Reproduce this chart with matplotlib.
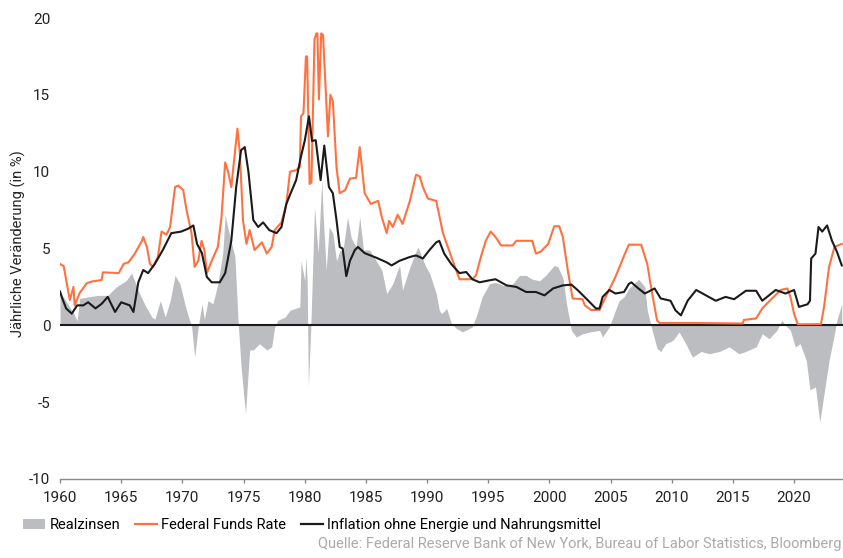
import numpy as np
import matplotlib
matplotlib.use("Agg")
import matplotlib.pyplot as plt
from matplotlib.patches import Patch
from matplotlib.lines import Line2D

plt.rcParams["font.family"] = ["Liberation Sans Narrow", "Roboto", "DejaVu Sans"]

# Federal Funds Rate
ff_year = [1960.0, 1960.3, 1960.8, 1961.1, 1961.2, 1961.6, 1962.2, 1962.6, 1963.4, 1963.5,
           1964.8, 1965.2, 1965.6, 1966.1, 1966.7, 1966.8, 1967.1, 1967.35, 1967.6, 1968.0,
           1968.3, 1968.7, 1969.0, 1969.4, 1969.66, 1970.07, 1970.34, 1970.75, 1971.0, 1971.3,
           1971.57, 1971.8, 1972.0, 1972.4, 1972.9, 1973.2, 1973.5, 1973.74, 1974.0, 1974.5,
           1974.7, 1974.96, 1975.24, 1975.5, 1975.9, 1976.5, 1976.9, 1977.3, 1977.55, 1978.1,
           1978.5, 1978.8, 1979.3, 1979.6, 1979.7, 1979.9, 1980.1, 1980.2, 1980.27, 1980.4,
           1980.55, 1980.8, 1980.95, 1981.04, 1981.16, 1981.35, 1981.5, 1981.76, 1981.9, 1982.1,
           1982.3, 1982.6, 1982.86, 1983.3, 1983.7, 1984.2, 1984.5, 1984.9, 1985.4, 1986.0,
           1986.3, 1986.7, 1986.9, 1987.2, 1987.6, 1988.0, 1988.6, 1989.1,
           1989.4, 1989.66, 1990.07, 1990.75, 1991.3, 1991.7, 1992.1, 1992.65, 1993.7, 1994.0,
           1994.4, 1994.8, 1995.2, 1995.6, 1996.05, 1997.0, 1997.3, 1998.6, 1998.9, 1999.3,
           1999.9, 2000.4, 2000.8, 2001.1, 2001.5, 2001.9, 2002.7, 2002.9, 2003.4, 2004.1,
           2004.6, 2005.4, 2006.3, 2006.5, 2007.5, 2008.0, 2008.4, 2008.8, 2009.0, 2012.0,
           2015.8, 2015.9, 2016.9, 2017.4, 2018.2, 2018.9, 2019.45, 2019.7, 2020.0, 2020.3,
           2022.2, 2022.45, 2022.86, 2023.3, 2023.9]
ff_val = [4.0, 3.85, 1.65, 2.5, 1.3, 2.1, 2.75, 2.85, 2.95, 3.45,
          3.4, 4.0, 4.1, 4.65, 5.5, 5.75, 5.1, 4.0, 3.8, 4.45,
          6.1, 5.9, 6.4, 9.0, 9.1, 8.8, 7.5, 6.0, 3.8, 4.2,
          5.5, 4.9, 3.4, 4.2, 5.1, 7.05, 10.6, 10.0, 9.0, 12.8,
          11.2, 6.8, 5.3, 6.2, 4.9, 5.4, 4.67, 5.1, 6.2, 6.7,
          7.9, 10.0, 10.1, 10.3, 13.6, 13.8, 17.5, 17.5, 14.7, 9.2,
          9.3, 18.6, 19.0, 19.0, 14.7, 19.0, 18.9, 14.7, 12.3, 15.0,
          14.6, 10.3, 8.6, 8.8, 9.55, 9.6, 11.6, 8.6, 7.9, 8.1,
          7.05, 6.0, 6.8, 6.4, 7.2, 6.6, 8.1, 9.8,
          9.7, 9.0, 8.25, 8.1, 6.0, 5.1, 4.2, 3.0, 3.0, 3.25,
          4.45, 5.5, 6.1, 5.75, 5.2, 5.2, 5.5, 5.5, 4.67, 4.8,
          5.3, 6.45, 6.45, 5.75, 3.6, 1.75, 1.7, 1.3, 1.0, 1.0,
          1.85, 3.15, 4.9, 5.25, 5.25, 4.0, 2.07, 0.33, 0.15, 0.15,
          0.12, 0.35, 0.45, 1.1, 1.75, 2.3, 2.4, 1.85, 0.76, 0.07,
          0.08, 1.2, 3.8, 5.1, 5.3]

# Inflation ohne Energie und Nahrungsmittel
core_year = [1960.0, 1960.14, 1960.5, 1960.96, 1961.4, 1961.9, 1962.3, 1962.9, 1963.4, 1963.9,
             1964.5, 1965.0, 1965.7, 1966.0, 1966.4, 1966.8, 1967.2, 1967.75, 1968.4, 1969.1,
             1969.9, 1970.5, 1970.9, 1971.2, 1971.6, 1972.0, 1972.4, 1973.06, 1973.5, 1974.0,
             1974.4, 1974.8, 1975.1, 1975.4, 1975.8, 1976.2, 1976.6, 1977.1, 1977.7, 1978.1,
             1978.5, 1978.8, 1979.3, 1979.7, 1980.0, 1980.35, 1980.6, 1980.9, 1981.3, 1981.6,
             1981.98, 1982.3, 1982.6, 1982.86, 1983.1, 1983.4, 1983.7, 1984.1, 1984.35, 1984.9,
             1985.85, 1986.7, 1987.1, 1987.75, 1988.6, 1989.1, 1989.66, 1990.2, 1990.75, 1991.0,
             1991.4, 1991.97,
             1992.65, 1993.2, 1993.7, 1994.3, 1995.1, 1995.6, 1996.5, 1997.3, 1998.1, 1998.9,
             1999.6, 2000.3, 2001.1, 2001.8, 2002.3, 2003.0, 2003.8, 2004.1, 2004.35, 2004.9,
             2005.4, 2006.1, 2006.5, 2006.7, 2007.2, 2007.8, 2008.6, 2009.1, 2009.9, 2010.3,
             2010.75, 2011.3, 2012.0, 2012.8, 2013.6, 2014.4, 2015.1, 2016.06, 2016.9, 2017.4,
             2018.5, 2019.3, 2020.0, 2020.4, 2021.1, 2021.3, 2021.4, 2021.75, 2022.0, 2022.3,
             2022.7, 2023.1, 2023.5, 2023.9]
core_val = [2.2, 1.85, 1.1, 0.76, 1.3, 1.3, 1.5, 1.1, 1.4, 1.85,
            0.87, 1.5, 1.3, 0.87, 2.8, 3.6, 3.4, 4.0, 4.9, 6.0,
            6.1, 6.3, 6.5, 5.3, 4.7, 3.15, 2.8, 2.8, 3.4, 5.5,
            9.0, 11.4, 11.6, 10.0, 6.85, 6.4, 6.7, 6.2, 6.0, 6.4,
            7.9, 8.5, 9.45, 11.0, 12.0, 13.6, 12.0, 12.05, 9.45, 11.7,
            9.0, 8.6, 6.85, 5.1, 5.0, 3.2, 4.2, 4.9, 5.1, 4.7,
            4.4, 4.1, 3.9, 4.2, 4.45, 4.55, 4.35, 4.9, 5.4, 5.5,
            4.67, 4.0,
            3.4, 3.47, 3.0, 2.8, 2.93, 3.0, 2.6, 2.5, 2.17, 2.17,
            1.95, 2.4, 2.6, 2.65, 2.3, 1.75, 1.1, 1.1, 1.85, 2.3,
            2.07, 2.17, 2.7, 2.8, 2.45, 2.07, 2.4, 1.75, 1.6, 0.98,
            0.65, 1.6, 2.3, 1.95, 1.6, 1.85, 1.7, 2.25, 2.25, 1.6,
            2.3, 2.07, 2.3, 1.2, 1.37, 1.6, 4.35, 4.67, 6.4, 6.1,
            6.5, 5.5, 4.8, 3.9]

# Realzinsen
real_year = [1960.0, 1960.7, 1961.1, 1961.4, 1961.6, 1962.3, 1963.1, 1963.9, 1964.6, 1965.0,
             1965.4, 1965.85, 1966.1, 1966.5, 1966.9, 1967.5, 1967.75, 1968.2, 1968.6, 1969.0,
             1969.4, 1969.8, 1970.2, 1970.5, 1970.75, 1971.0, 1971.3, 1971.6, 1971.8, 1972.1,
             1972.5, 1972.9, 1973.3, 1973.5, 1973.7, 1974.3, 1974.55, 1974.8, 1975.16, 1975.5,
             1975.8, 1976.3, 1976.9, 1977.3, 1977.55, 1977.8, 1978.4, 1978.8, 1979.6, 1979.7,
             1980.0, 1980.1, 1980.2, 1980.3, 1980.5, 1980.8, 1981.1, 1981.4, 1981.5, 1981.76,
             1982.0, 1982.3, 1982.6, 1982.9, 1983.1, 1983.5, 1983.8, 1984.2, 1984.5, 1984.8,
             1985.3, 1985.85, 1986.3, 1986.7, 1987.2, 1987.75, 1988.0, 1988.6, 1989.25, 1989.9,
             1990.2, 1990.75, 1991.0, 1991.2, 1991.6, 1992.0,
             1992.4, 1992.9, 1993.7, 1994.1, 1994.5, 1995.1, 1995.6, 1996.2, 1997.0, 1997.55,
             1998.1, 1998.6, 1999.2, 1999.7, 2000.4, 2000.7, 2001.1, 2001.4, 2001.8, 2002.2,
             2002.7, 2003.3, 2004.1, 2004.35, 2004.9, 2005.4, 2005.7, 2006.1, 2006.5, 2007.3,
             2007.8, 2008.0, 2008.4, 2008.8, 2009.1, 2009.5, 2010.1, 2010.6, 2011.15, 2011.7,
             2012.4, 2013.06, 2013.9, 2014.7, 2015.5, 2016.06, 2016.9, 2017.4, 2017.96, 2018.6,
             2019.0, 2019.3, 2019.7, 2020.1, 2020.5, 2021.0, 2021.3, 2021.75, 2022.1, 2022.45,
             2022.86, 2023.3, 2023.5, 2023.9]
real_val = [2.2, 1.3, 0.8, 0.3, 1.75, 1.85, 1.95, 1.95, 2.5, 2.7,
            2.9, 3.4, 2.9, 2.07, 1.4, 0.54, 0.4, 1.6, 0.54, 1.6,
            3.25, 2.7, 1.4, 0.54, 0.0, -2.07, -0.1, 1.4, 0.4, 1.6,
            1.4, 2.7, 4.67, 7.2, 6.4, 4.45, 0.33, -2.7, -5.75, -1.6,
            -1.6, -1.2, -1.6, -1.4, -0.1, 0.33, 0.54, 0.98, 1.2, 4.2,
            2.9, 4.5, 3.0, -4.0, -0.1, 7.7, 4.7, 9.45, 7.3, 3.6,
            6.4, 6.0, 4.2, 4.9, 4.7, 7.05, 5.7, 5.1, 7.05, 4.9,
            4.9, 4.2, 3.6, 2.07, 2.7, 3.9, 2.3, 3.8, 5.1, 3.8,
            3.4, 2.07, 0.98, 0.76, 1.1, 0.1,
            -0.2, -0.43, -0.1, 0.76, 1.85, 2.7, 2.8, 2.6, 2.7, 3.25,
            3.25, 3.0, 2.9, 3.25, 3.9, 3.8, 3.1, 1.4, -0.33, -0.76,
            -0.55, -0.43, -0.33, -0.76, -0.1, 0.98, 1.6, 1.85, 2.4, 3.0,
            2.5, 0.98, -0.33, -1.5, -1.7, -1.2, -0.98, -0.43, -1.2, -2.07,
            -1.7, -1.85, -1.7, -1.4, -1.85, -1.7, -1.4, -0.55, -0.87, -0.33,
            0.33, 0.0, -0.33, -1.4, -1.2, -2.3, -4.2, -4.0, -6.3, -4.45,
            -2.3, -0.55, 0.33, 1.4]

x_ticks = list(range(1960, 2021, 5))
y_ticks = [-10, -5, 0, 5, 10, 15, 20]

orange = "#FF7140"
black = "#1A1A1A"
grey = "#BCBDC1"

fig = plt.figure(figsize=(8.43, 5.58), dpi=100)
ax = fig.add_axes([0.0712, 0.1416, 0.9288, 0.8261])

ax.fill_between(real_year, real_val, 0, color=grey, linewidth=0, zorder=1)
ax.axhline(0, color=black, linewidth=1.5, zorder=2)
ax.plot(ff_year, ff_val, color=orange, linewidth=1.5, zorder=3)
ax.plot(core_year, core_val, color=black, linewidth=1.5, zorder=4)

ax.set_xlim(1960, 2024)
ax.set_ylim(-10, 20)
ax.set_xticks(x_ticks)
ax.set_yticks(y_ticks)
ax.set_yticklabels([str(v) for v in y_ticks])
for s in ["top", "right", "left"]:
    ax.spines[s].set_visible(False)
ax.spines["bottom"].set_color("#8A8A8A")
ax.spines["bottom"].set_linewidth(1.0)
ax.tick_params(axis="x", colors="#8A8A8A", length=3, width=1, labelcolor="#222222",
               labelsize=11, pad=6)
ax.tick_params(axis="y", length=0, labelcolor="#222222", labelsize=11, pad=7)
ax.set_ylabel("Jährliche Veränderung (in %)", fontsize=10.5, color="#222222")
ax.yaxis.set_label_coords(-0.043, 0.51)

handles = [Patch(facecolor=grey, edgecolor="none"),
           Line2D([0], [0], color=orange, linewidth=1.6),
           Line2D([0], [0], color=black, linewidth=1.6)]
labels = ["Realzinsen", "Federal Funds Rate", "Inflation ohne Energie und Nahrungsmittel"]
fig.legend(handles, labels, loc="center left", bbox_to_anchor=(0.012, 0.059), ncol=3,
           frameon=False, fontsize=10.5, handlelength=1.5, handleheight=0.6,
           handletextpad=0.3, columnspacing=1.0)

fig.text(0.998, 0.013, "Quelle: Federal Reserve Bank of New York, Bureau of Labor Statistics, Bloomberg",
         ha="right", va="bottom", fontsize=10.5, color="#AAAAAA")

fig.savefig("out.png", dpi=100)
